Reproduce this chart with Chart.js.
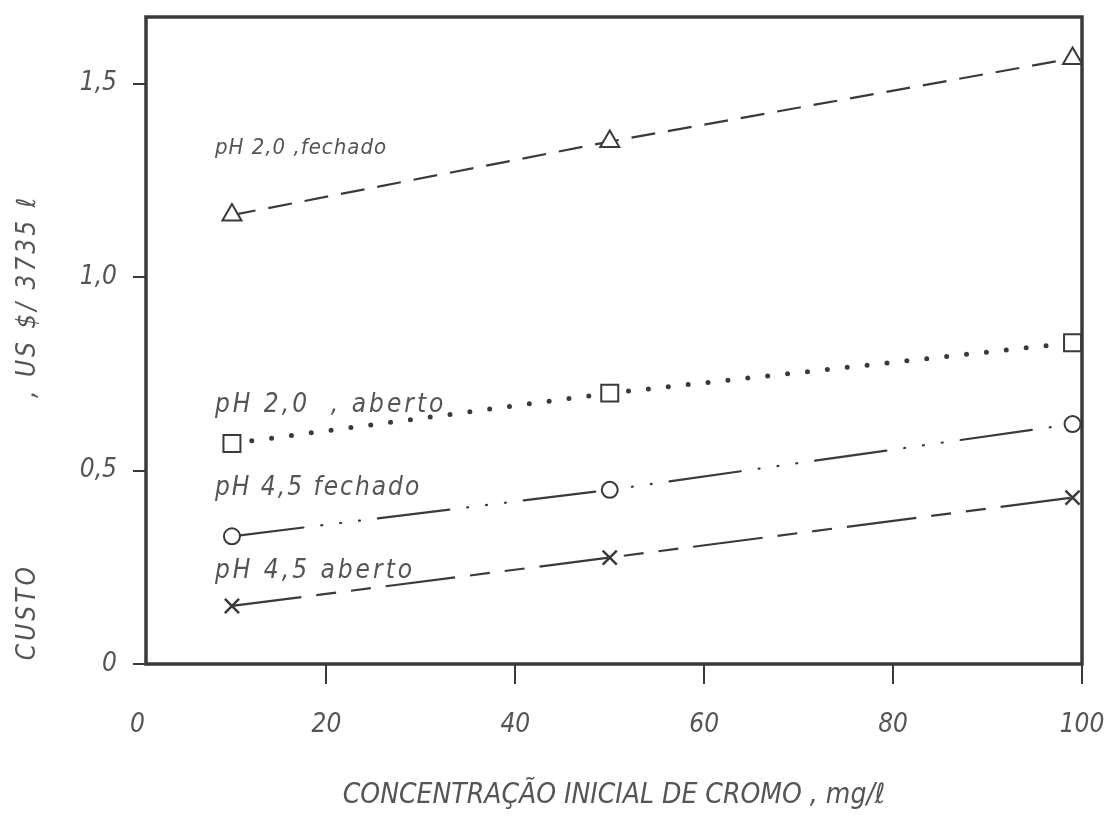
<!DOCTYPE html>
<html>
<head>
<meta charset="utf-8">
<script src="https://cdn.jsdelivr.net/npm/chart.js@4"></script>
<style>
  body { margin: 0; background: #fff; }
  canvas { display: block; }
</style>
</head>
<body>
<canvas id="custoChart" width="1112" height="817"></canvas>
<script>
// concentração inicial de cromo (mg/l)
const concentracao = [10, 50, 99];

// custo, US $ / 3735 l
const ph20Fechado = [1.16, 1.35, 1.565];
const ph20Aberto = [0.57, 0.70, 0.83];
const ph45Fechado = [0.33, 0.45, 0.62];
const ph45Aberto = [0.15, 0.275, 0.43];

const xTickValues = [0, 20, 40, 60, 80, 100];
const xTickLabels = ['0', '20', '40', '60', '80', '100'];
const yTickValues = [0, 0.5, 1, 1.5];
const yTickLabels = ['0', '0,5', '1,0', '1,5'];

const INK = '#3a3a3a';
const TEXT = '#555';
const FAMILY = '"Liberation Sans Narrow", "DejaVu Sans Condensed", "Noto Sans", sans-serif';

const toPoints = ys => concentracao.map((x, i) => ({ x: x, y: ys[i] }));

// curve labels, placed in data units
const curveLabels = [
  { text: 'pH 2,0 ,fechado', x: 8.2, y: 1.333, size: 22, spacing: 1 },
  { text: 'pH 2,0  , aberto', x: 8.2, y: 0.668, size: 26, spacing: 3 },
  { text: 'pH 4,5 fechado', x: 8.2, y: 0.454, size: 26, spacing: 2 },
  { text: 'pH 4,5 aberto', x: 8.2, y: 0.240, size: 26, spacing: 3 }
];

const framePlugin = {
  id: 'frame',
  beforeDatasetsDraw(chart) {
    const a = chart.chartArea;
    const ctx = chart.ctx;
    ctx.save();
    ctx.strokeStyle = INK;
    ctx.lineWidth = 3.5;
    ctx.strokeRect(a.left, a.top, a.right - a.left, a.bottom - a.top);
    ctx.restore();
  }
};

const textPlugin = {
  id: 'texts',
  afterDraw(chart) {
    const ctx = chart.ctx;
    const xs = chart.scales.x;
    const ys = chart.scales.y;
    ctx.save();
    ctx.fillStyle = TEXT;
    ctx.textBaseline = 'middle';
    curveLabels.forEach(l => {
      ctx.font = 'italic ' + l.size + 'px ' + FAMILY;
      ctx.letterSpacing = l.spacing + 'px';
      ctx.textAlign = 'left';
      ctx.fillText(l.text, xs.getPixelForValue(l.x), ys.getPixelForValue(l.y));
    });
    // y axis title, in two pieces like the original
    ctx.font = 'italic 26px ' + FAMILY;
    ctx.letterSpacing = '3px';
    ctx.textAlign = 'center';
    [['CUSTO', 0.134], [', US $/ 3735 \u2113', 0.95]].forEach(([t, v]) => {
      ctx.save();
      ctx.translate(28, ys.getPixelForValue(v));
      ctx.rotate(-Math.PI / 2);
      ctx.fillText(t, 0, 0);
      ctx.restore();
    });
    ctx.restore();
  }
};

const custoConfig = {
  type: 'line',
  data: {
    datasets: [{
      label: 'pH 2,0 fechado',
      data: toPoints(ph20Fechado),
      borderColor: INK,
      borderWidth: 2.2,
      borderDash: [24, 13],
      pointStyle: 'triangle',
      pointRadius: 11,
      pointBorderWidth: 2,
      pointBorderColor: INK,
      pointBackgroundColor: '#fff'
    }, {
      label: 'pH 2,0 aberto',
      data: toPoints(ph20Aberto),
      borderColor: INK,
      borderWidth: 5,
      borderDash: [0, 20],
      borderCapStyle: 'round',
      pointStyle: 'rect',
      pointRadius: 12,
      pointBorderWidth: 2,
      pointBorderColor: INK,
      pointBackgroundColor: '#fff'
    }, {
      label: 'pH 4,5 fechado',
      data: toPoints(ph45Fechado),
      borderColor: INK,
      borderWidth: 2.2,
      borderDash: [72, 18, 1, 18, 1, 18, 1, 18],
      borderCapStyle: 'round',
      pointStyle: 'circle',
      pointRadius: 8,
      pointBorderWidth: 2,
      pointBorderColor: INK,
      pointBackgroundColor: '#fff'
    }, {
      label: 'pH 4,5 aberto',
      data: toPoints(ph45Aberto),
      borderColor: INK,
      borderWidth: 2.2,
      borderDash: [70, 15, 20, 15, 20, 15],
      pointStyle: 'crossRot',
      pointRadius: 10,
      pointBorderWidth: 2.5,
      pointBorderColor: INK
    }]
  },
  options: {
    responsive: false,
    animation: false,
    tension: 0,
    layout: { padding: { top: 17, right: 30, left: 0, bottom: 0 } },
    plugins: {
      legend: { display: false },
      tooltip: { enabled: false }
    },
    scales: {
      x: {
        type: 'linear',
        min: 0.9,
        max: 100,
        afterFit: s => {
          s.height = 153;
          s.paddingLeft = 0;
          s.paddingRight = 0;
        },
        afterBuildTicks: s => { s.ticks = xTickValues.map(v => ({ value: v })); },
        border: { display: false },
        grid: {
          drawOnChartArea: false,
          tickLength: 20,
          lineWidth: 2,
          color: c => (c.tick && c.tick.value === 0) ? 'rgba(0,0,0,0)' : INK
        },
        ticks: {
          padding: 26,
          color: TEXT,
          maxRotation: 0,
          autoSkip: false,
          font: { family: FAMILY, size: 26, style: 'italic' },
          callback: (v, i) => xTickLabels[i]
        },
        title: {
          display: true,
          text: 'CONCENTRAÇÃO INICIAL DE CROMO , mg/\u2113',
          color: TEXT,
          font: { family: FAMILY, size: 28, style: 'italic' },
          padding: { top: 0, bottom: 4 }
        }
      },
      y: {
        min: 0,
        max: 1.672,
        afterFit: s => {
          s.width = 146;
          s.paddingTop = 0;
          s.paddingBottom = 0;
        },
        afterBuildTicks: s => { s.ticks = yTickValues.map(v => ({ value: v })); },
        border: { display: false },
        grid: {
          drawOnChartArea: false,
          tickLength: 13,
          lineWidth: 2,
          color: INK
        },
        ticks: {
          padding: 16,
          color: TEXT,
          font: { family: FAMILY, size: 26, style: 'italic' },
          callback: (v, i) => yTickLabels[i]
        }
      }
    }
  },
  plugins: [framePlugin, textPlugin]
};

new Chart(document.getElementById('custoChart').getContext('2d'), custoConfig);
</script>
</body>
</html>
